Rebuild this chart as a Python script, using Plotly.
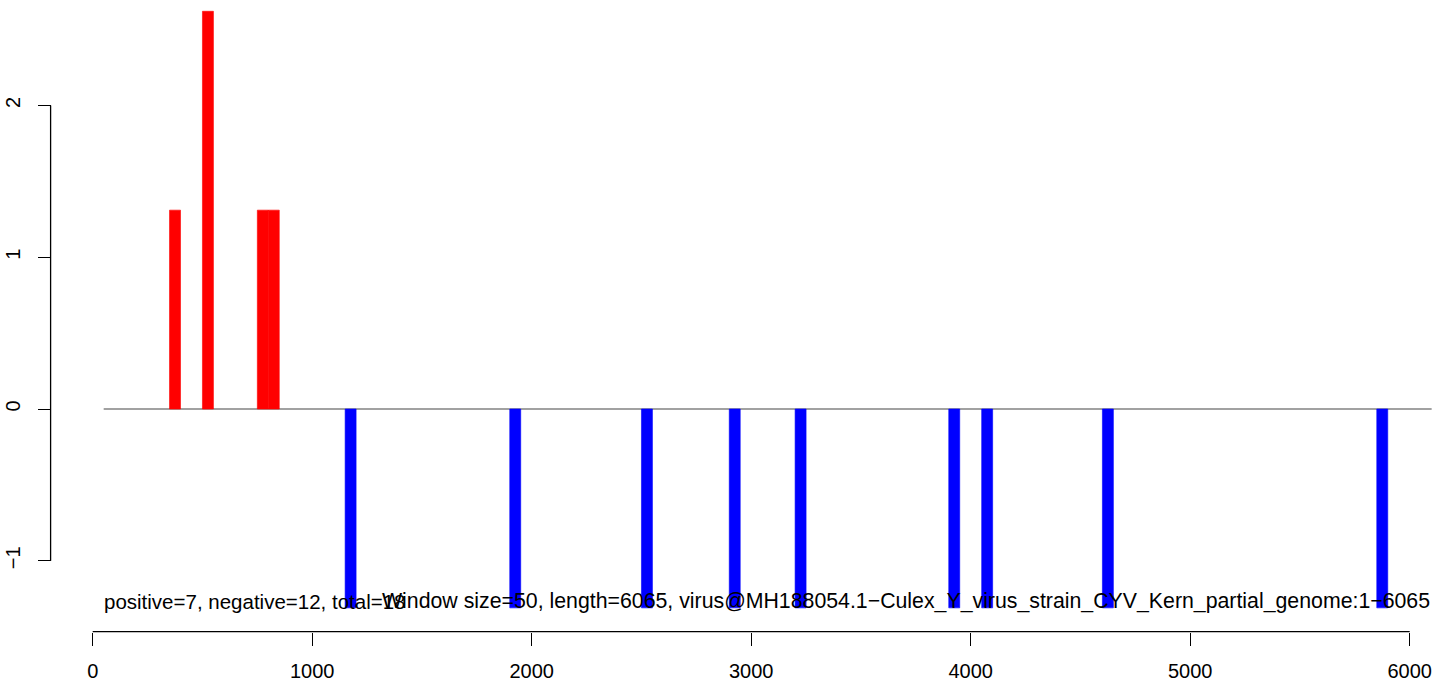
import plotly.graph_objects as go

# window starts (window size 50) and values
pos_starts = [350, 500, 750, 800]
pos_values = [1.31, 2.62, 1.31, 1.31]
neg_starts = [1150, 1900, 2500, 2900, 3200, 3900, 4050, 4600, 5850]
neg_values = [-1.31, -1.31, -1.31, -1.31, -1.31, -1.31, -1.31, -1.31, -1.31]
window = 50
seq_start = 50
seq_end = 6100

x_ticks = [0, 1000, 2000, 3000, 4000, 5000, 6000]
x_ticklabels = ["0", "1000", "2000", "3000", "4000", "5000", "6000"]
y_ticks = [-1, 0, 1, 2]
y_ticklabels = ["−1", "0", "1", "2"]

label_left = "positive=7, negative=12, total=18"
label_right = "Window size=50, length=6065, virus@MH188054.1−Culex_Y_virus_strain_CYV_Kern_partial_genome:1−6065"

W, H = 1444, 683
FONT = "Liberation Sans, Arial, Helvetica, sans-serif"

# pixel geometry
x0_px, x6000_px = 92.7, 1409.7
sx = (x6000_px - x0_px) / 6000.0
y0_px = 409.0
sy = 151.8
xr = [-x0_px / sx, (W - x0_px) / sx]
yr = [-(H - y0_px) / sy, y0_px / sy]

fig = go.Figure()
fig.add_trace(go.Bar(
    x=[s + window / 2 for s in pos_starts], y=pos_values, width=window,
    marker=dict(color="#FF0000", line=dict(width=0.6, color="#FF0000")), showlegend=False))
fig.add_trace(go.Bar(
    x=[s + window / 2 for s in neg_starts], y=neg_values, width=window,
    marker=dict(color="#0000FF", line=dict(width=0.6, color="#0000FF")), showlegend=False))

shapes = [
    dict(type="line", xref="x", yref="y", x0=seq_start, x1=seq_end, y0=0, y1=0,
         line=dict(color="#444444", width=1.2), layer="below"),
    # x axis line
    dict(type="line", xref="x", yref="paper", x0=x_ticks[0], x1=x_ticks[-1],
         y0=1 - 631.7 / H, y1=1 - 631.7 / H, line=dict(color="black", width=1.3)),
    # y axis line
    dict(type="line", xref="paper", yref="y", x0=50.6 / W, x1=50.6 / W,
         y0=y_ticks[0], y1=y_ticks[-1], line=dict(color="black", width=1.3)),
]

annotations = [
    dict(x=seq_start - 8, y=-(601 - y0_px) / sy, xref="x", yref="y", text=label_left,
         showarrow=False, xanchor="left", yanchor="middle",
         font=dict(family=FONT, size=20.5, color="black")),
    dict(x=seq_end, y=-(601 - y0_px) / sy, xref="x", yref="y", text=label_right,
         showarrow=False, xanchor="right", yanchor="middle",
         font=dict(family=FONT, size=21.3, color="black")),
]

fig.update_layout(
    width=W, height=H,
    margin=dict(l=0, r=0, t=0, b=0),
    paper_bgcolor="white", plot_bgcolor="white",
    barmode="overlay",
    shapes=shapes, annotations=annotations,
    xaxis=dict(range=xr, anchor="free", position=1 - 631.7 / H,
               tickmode="array", tickvals=x_ticks, ticktext=x_ticklabels,
               ticks="outside", ticklen=13, tickwidth=1.3, tickcolor="black",
               showline=False, showgrid=False, zeroline=False,
               tickfont=dict(family=FONT, size=20, color="black"),
               ticklabelstandoff=8, automargin=False, fixedrange=True),
    yaxis=dict(range=yr, anchor="free", position=50.6 / W,
               tickmode="array", tickvals=y_ticks, ticktext=y_ticklabels,
               ticks="outside", ticklen=13, tickwidth=1.3, tickcolor="black",
               showline=False, showgrid=False, zeroline=False,
               tickangle=-90,
               tickfont=dict(family=FONT, size=20, color="black"),
               ticklabelstandoff=10, automargin=False, fixedrange=True),
)

fig.write_html(
    "out.html",
    config={"displayModeBar": False},
    post_script="document.body.style.margin='0';document.body.style.padding='0';document.body.style.overflow='hidden';",
)
